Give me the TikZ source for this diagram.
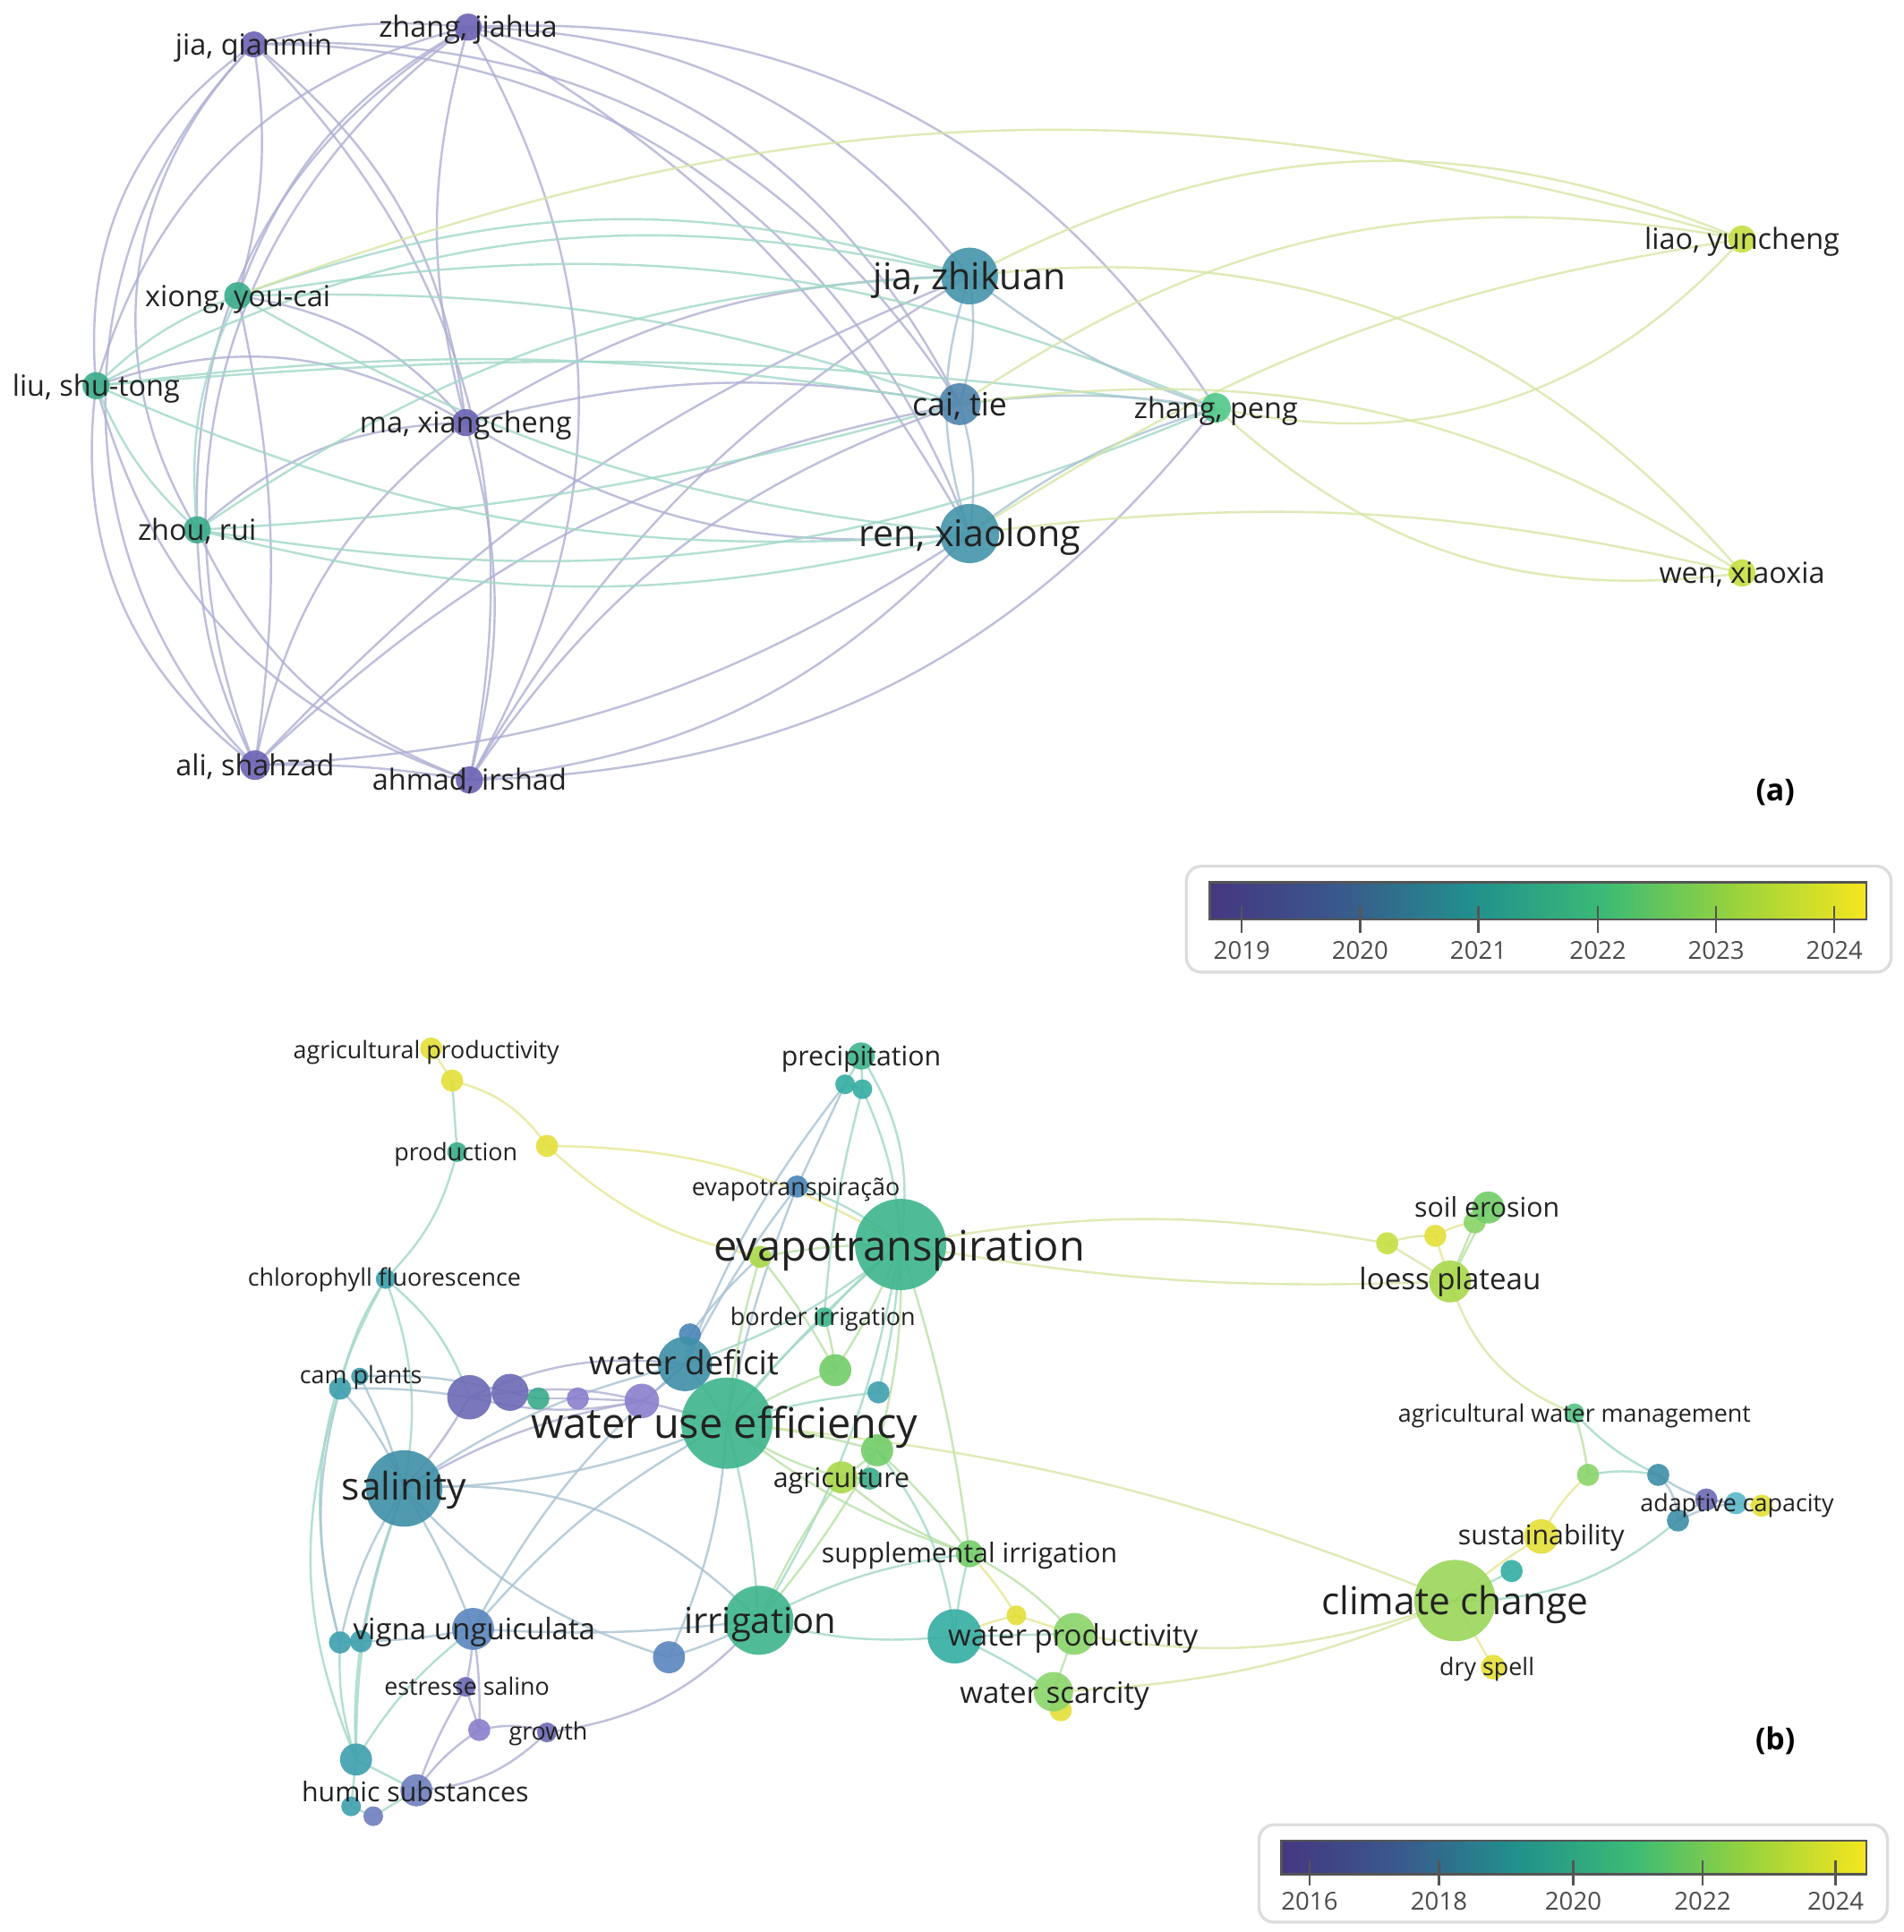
\documentclass[tikz,border=0pt]{standalone}
\usepackage{fontspec}
\setmainfont{Open Sans}
\usetikzlibrary{backgrounds}
\definecolor{txt}{HTML}{222222}
% node colours
\definecolor{npu}{HTML}{6B63B3}
\definecolor{nte}{HTML}{3AAB8A}
\definecolor{nbl}{HTML}{4494AA}
\definecolor{nbb}{HTML}{4F84AC}
\definecolor{ngr}{HTML}{4FC88A}
\definecolor{nye}{HTML}{C6DF43}
\definecolor{c1}{HTML}{6B6AB5}
\definecolor{c2}{HTML}{8A7FCC}
\definecolor{c3}{HTML}{5A86BD}
\definecolor{c4}{HTML}{4B84B8}
\definecolor{c5}{HTML}{3E8FA7}
\definecolor{c6}{HTML}{3E9FAE}
\definecolor{c7}{HTML}{3AAB8A}
\definecolor{c8}{HTML}{3DB58C}
\definecolor{c9}{HTML}{35ADA2}
\definecolor{c10}{HTML}{55C484}
\definecolor{c11}{HTML}{72CD68}
\definecolor{c12}{HTML}{8AD46A}
\definecolor{c13}{HTML}{9AD65A}
\definecolor{c14}{HTML}{A9D84A}
\definecolor{c15}{HTML}{C6DF43}
\definecolor{c16}{HTML}{E4DF38}
\definecolor{c18}{HTML}{6F7FBF}
\definecolor{c19}{HTML}{5AB8C8}
% edge colours
\definecolor{pa}{HTML}{AEAFD3}
\definecolor{ta}{HTML}{A0D8C8}
\definecolor{ba}{HTML}{A8C2D3}
\definecolor{ya}{HTML}{D6E6A4}
\definecolor{ga}{HTML}{B8E0A6}
\definecolor{ye}{HTML}{E6E694}
% colour bar
\definecolor{v0}{HTML}{453781}
\definecolor{v1}{HTML}{39598C}
\definecolor{v2}{HTML}{21908D}
\definecolor{v3}{HTML}{3BBB75}
\definecolor{v4}{HTML}{99D33C}
\definecolor{v5}{HTML}{F6E61E}
\definecolor{boxc}{HTML}{DDDDDD}
\definecolor{tickc}{HTML}{555555}
\begin{document}
\begin{tikzpicture}[x=0.01cm, y=-0.01cm,
  dot/.style={circle, inner sep=0pt, draw=none, fill=#1, fill opacity=0.9},
  rad/.style={minimum size=#1*0.02cm},
  lab/.style={anchor=base, inner sep=0pt, text=txt, font=\fontsize{#1}{#1}\selectfont, yshift=-0.36*#1pt},
  ed/.style={draw=#1, line width=0.5pt, opacity=0.8},
  yr/.style={inner sep=0pt, text=tickc!90!black, font=\fontsize{5.7}{5.7}\selectfont},
  tk/.style={draw=tickc, line width=0.5pt},
  panel/.style={inner sep=0pt, text=black, font=\bfseries\fontsize{7}{7}\selectfont}]
\useasboundingbox (0,0) rectangle (1545,1568);

% ---------------- (a) nodes ----------------
\foreach \n/\x/\y/\r/\c in {
  jq/206/36/10.5/npu, zj/380/22/11/npu, xy/193/240/11/nte, ls/78/313/11/nte,
  mx/378/343/11/npu, zr/160/430/11/nte, as/207/621/12/npu, ai/381/633/11/npu,
  jz/787/224/23/nbl, ct/779/328/17/nbb, rx/787/433/24/nbl, zp/987/331/12/ngr,
  ly/1414/194/11/nye, wx/1414/465/11/nye}
  \node[dot=\c, rad=\r] (\n) at (\x,\y) {};

% ---------------- (b) nodes ----------------
\foreach \n/\x/\y/\r/\c in {
  ap/350/851/9/c16, y1/367/877/9/c16, pr/371/935/8/c7, y2/444/930/9/c16,
  pc/699/857/11/c8, pc1/686/880/8/c9, pc2/700/884/8/c9, ep/647/963/9/c4,
  g1/617/1020/9/c14, ev/731/1010/37/c8,
  se2/1165/1003/9/c16, se3/1126/1009/9/c15, se1/1197/992/9/c12, se/1208/980/13/c11, lp/1177/1040/17/c14,
  cf/313/1038/8/c6, bi/669/1069/8/c8, b1/560/1083/9/c4, wd/556/1107/22/c5,
  g2/678/1112/13/c11, t1/713/1130/9/c6, cp/276/1127/9/c6, cq/292/1117/7/c6,
  pu1/381/1134/18/c1, pu2/414/1130/15/c1, t2/437/1135/9/c7, pu3/469/1135/9/c2, pu4/521/1137/14/c2,
  wue/590/1155/37/c8, g3/712/1177/13/c11, t3/706/1200/9/c7, ag/683/1199/13/c14,
  sa/328/1208/31/c5, si/787/1261/11/c11, y3/825/1311/8/c16, t4/775/1328/22/c9,
  wp/872/1326/17/c12, y4/861/1388/9/c16, ws/855/1373/16/c12,
  ir/616/1315/28/c8, b2/543/1345/13/c3, vu/384/1322/17/c3,
  t5/276/1333/9/c6, t6/293/1332/9/c6, es/378/1369/8/c1, gr1/389/1404/9/c2, gr/444/1406/8/c1,
  hs2/285/1466/8/c6, hs3/303/1474/8/c18, hs1/289/1428/13/c6, hs/338/1453/13/c18,
  aw/1278/1147/8/c10, a1/1289/1197/9/c12, a2/1346/1197/9/c5, a3/1385/1217/9/c1,
  a4/1409/1220/9/c19, a5/1430/1222/9/c16, a6/1362/1234/9/c5,
  su/1251/1247/14/c16, t7/1227/1275/9/c9, ds/1212/1353/10/c16, cc/1181/1299/33/c13}
  \node[dot=\c, rad=\r] (\n) at (\x,\y) {};

% ---------------- edges ----------------
\begin{pgfonlayer}{background}
\fill[white] (0,0) rectangle (1545,1568);
\foreach \a/\b/\d/\c in {
  jq/zj/10/pa, jq/ls/-30/pa, jq/zr/-38/pa, jq/as/-45/pa, jq/xy/12/pa, jq/mx/22/pa, jq/ai/28/pa, jq/ct/30/pa, jq/rx/35/pa,
  zj/ls/-30/pa, zj/xy/-20/pa, zj/zr/-30/pa, zj/as/-38/pa, zj/mx/-15/pa, zj/ai/30/pa, zj/jz/25/pa, zj/ct/25/pa, zj/rx/15/pa, zj/zp/30/pa,
  mx/as/-20/pa, mx/ai/15/pa, mx/jz/15/pa, mx/ct/12/pa, mx/rx/-18/pa, zr/mx/20/pa, xy/mx/20/pa, ls/mx/25/pa,
  as/ai/5/pa, as/jz/12/pa, as/ct/16/pa, as/rx/-15/pa, ai/jz/14/pa, ai/ct/18/pa, ai/rx/-20/pa, ai/zp/-25/pa,
  ls/as/-30/pa, ls/ai/-28/pa, xy/as/10/pa, zr/as/-12/pa, zr/ai/-22/pa,
  xy/ls/-12/ta, xy/zr/-15/ta, ls/zr/-12/ta, xy/jz/18/ta, xy/ct/10/ta, xy/rx/-12/ta, ls/jz/20/ta, ls/ct/8/ta, ls/rx/-14/ta,
  zr/jz/16/ta, zr/ct/-6/ta, zr/rx/-14/ta, xy/zp/16/ta, ls/zp/6/ta, zr/zp/-16/ta,
  jz/ct/12/ba, ct/rx/12/ba, jz/rx/-18/ba, jz/zp/-10/ba, ct/zp/8/ba, rx/zp/10/ba,
  jz/ly/25/ya, ct/ly/22/ya, rx/ly/12/ya, zp/ly/-30/ya, zp/wx/-25/ya, jz/wx/28/ya, ct/wx/20/ya, rx/wx/10/ya, xy/ly/18/ya}
  \draw[ed=\c] (\a.center) to[bend left=\d] (\b.center);
\foreach \a/\b/\d/\c in {
  ap/y1/0/ye, y1/y2/20/ye, y1/pr/0/ta, pr/cf/15/ta, y2/g1/-15/ye, y2/ev/15/ye,
  cf/cp/-10/ta, cf/sa/15/ta, cf/t5/-22/ta, cf/pu1/15/ta, cp/sa/10/ba, cp/pu1/5/ba, cp/t5/-15/ba, cp/hs1/-20/ta, cq/pu2/8/ba, cq/sa/5/ba,
  pc/pc1/0/ta, pc/pc2/0/ta, pc1/pc2/0/ta, pc/ev/20/ta, pc1/ep/0/ba, pc1/wd/-8/ba, pc2/ev/10/ta, pc2/bi/-5/ta,
  ep/wd/-5/ba, ep/ev/10/ta, ep/wue/-5/ba, g1/ev/5/ga, g1/wue/-5/ga, g1/g2/5/ga,
  ev/se3/10/ya, ev/lp/-6/ya, ev/wd/10/ta, ev/wue/-5/ta, ev/g2/5/ga, ev/t1/5/ta, ev/bi/-5/ta, ev/ir/10/ta, ev/g3/8/ga, ev/si/5/ga,
  bi/wue/-5/ta, bi/g2/5/ga, wd/b1/0/ba, wd/wue/5/ta, wd/pu4/5/pa, wd/pu1/-15/pa, wd/sa/-10/ba, b1/g1/5/ba,
  pu1/pu2/0/pa, pu2/t2/0/pa, t2/pu3/0/pa, pu3/pu4/0/pa, pu1/pu4/-12/pa, pu2/pu4/10/pa, pu1/sa/5/pa, pu4/wue/0/pa,
  wue/g3/5/ga, wue/ag/-10/ga, wue/t1/5/ta, wue/g2/5/ga, wue/ir/5/ta, wue/sa/10/ba, wue/si/-10/ga, wue/cc/8/ya, wue/vu/-10/ba,
  g3/ag/5/ga, g3/si/5/ga, ag/si/-10/ga, t3/ag/0/ga,
  si/y3/5/ye, si/wp/10/ga, si/t4/-5/ta, si/ir/-10/ta,
  t4/wp/0/ta, t4/ws/5/ta, t4/ir/10/ta, t4/y3/5/ye, t4/g3/-15/ta, wp/ws/0/ga, ws/y4/0/ye, wp/y3/0/ye,
  cc/wp/15/ya, cc/ws/10/ya, cc/su/5/ye, cc/t7/0/ta, cc/ds/0/ye, cc/a6/-20/ta,
  lp/aw/-25/ya, lp/se/0/ga, lp/se1/0/ga, lp/se2/0/ye, lp/se3/0/ya, se/se1/0/ga, se2/se1/10/ye, se3/se2/10/ya,
  aw/a1/5/ga, aw/a2/-10/ta, a1/su/-10/ye, a1/a2/10/ta, a2/a6/20/ba, a2/a4/-15/ba, a6/a4/10/ba, a3/a4/0/pa, a4/a5/0/ye, a6/a3/5/ba,
  ir/b2/5/ba, ir/sa/-25/ba, ir/vu/5/ba, ir/gr/20/pa, ir/ag/5/ga, ir/g3/-5/ga, b2/sa/15/ba, b2/wue/-10/ba,
  sa/vu/5/ba, sa/t5/-10/ba, sa/t6/-5/ba, sa/hs1/-10/ta, sa/pu4/10/pa,
  vu/es/5/pa, vu/gr1/5/pa, vu/t6/5/ba, vu/hs1/-10/ta, vu/wd/10/ba,
  es/gr1/0/pa, es/hs/-5/pa, gr1/gr/15/pa, gr1/hs/-10/pa, gr/hs/20/pa,
  hs/hs1/0/ta, hs1/hs2/0/ta, hs2/hs3/0/ta, hs/hs3/0/ta, hs1/t5/10/ta, t5/t6/0/ta, hs1/t6/5/ta}
  \draw[ed=\c] (\a.center) to[bend left=\d] (\b.center);
\end{pgfonlayer}

% ---------------- labels (a) ----------------
\foreach \n/\s/\t in {
  jq/6.7/{jia, qianmin}, zj/6.7/{zhang, jiahua}, xy/6.7/{xiong, you-cai}, ls/6.7/{liu, shu-tong},
  mx/6.7/{ma, xiangcheng}, zr/6.7/{zhou, rui}, as/6.7/{ali, shahzad}, ai/6.7/{ahmad, irshad},
  jz/8.5/{jia, zhikuan}, ct/7.4/{cai, tie}, rx/8.5/{ren, xiaolong}, zp/6.7/{zhang, peng},
  ly/6.7/{liao, yuncheng}, wx/6.7/{wen, xiaoxia}}
  \node[lab=\s] (\n-t) at (\n) {\t};

% ---------------- labels (b) ----------------
\foreach \n/\x/\y/\s/\t in {
  ap/346/852/5.55/{agricultural productivity}, pr/370/935/5.55/{production}, pc/699/857/6.26/{precipitation},
  ep/646/963/5.55/{evapotranspiração}, ev/730/1011/9.7/{evapotranspiration}, se/1207/980/6.26/{soil erosion},
  lp/1177/1038/6.83/{loess plateau}, cf/312/1037/5.55/{chlorophyll fluorescence}, bi/668/1069/5.55/{border irrigation},
  wd/555/1106/7.6/{water deficit}, cq/293/1116/5.55/{cam plants}, wue/588/1155/9.7/{water use efficiency},
  ag/683/1199/6.26/{agriculture}, sa/328/1206/8.8/{salinity}, si/787/1260/6.26/{supplemental irrigation},
  wp/871/1327/6.83/{water productivity}, ws/856/1374/6.83/{water scarcity}, ir/617/1315/8.25/{irrigation},
  vu/385/1322/6.83/{vigna unguiculata}, es/379/1369/5.55/{estresse salino}, gr/445/1405/5.55/{growth},
  hs/337/1454/6.26/{humic substances}, aw/1278/1147/5.55/{agricultural water management},
  a4/1410/1220/5.55/{adaptive capacity}, su/1251/1246/6.26/{sustainability}, cc/1181/1299/8.8/{climate change},
  ds/1207/1353/5.55/{dry spell}}
  \node[lab=\s] (\n-t) at (\x,\y) {\t};

\node[panel] (pa-lab) at (1441,643) {(a)};
\node[panel] (pb-lab) at (1441,1413) {(b)};

% ---------------- colour bar 1 ----------------
\draw[draw=boxc, line width=0.7pt, fill=white, rounded corners=0.12cm] (963,703) rectangle (1535,789);
\foreach \i/\ca/\cb in {0/v0/v1, 1/v1/v2, 2/v2/v3, 3/v3/v4, 4/v4/v5}
  \shade[left color=\ca, right color=\cb] ({982+\i*106.6-0.4},716) rectangle ({982+(\i+1)*106.6+0.4},746);
\draw[draw=tickc, line width=0.5pt] (982,716) rectangle (1515,746);
\foreach \x/\t in {1008/2019, 1104/2020, 1200/2021, 1297/2022, 1393/2023, 1489/2024} {
  \draw[tk] (\x,735) -- (\x,757);
  \node[yr] at (\x,771) {\t};
}

% ---------------- colour bar 2 ----------------
\draw[draw=boxc, line width=0.7pt, fill=white, rounded corners=0.12cm] (1022,1481) rectangle (1532,1560);
\foreach \i/\ca/\cb in {0/v0/v1, 1/v1/v2, 2/v2/v3, 3/v3/v4, 4/v4/v5}
  \shade[left color=\ca, right color=\cb] ({1040+\i*95-0.4},1494) rectangle ({1040+(\i+1)*95+0.4},1521);
\draw[draw=tickc, line width=0.5pt] (1040,1494) rectangle (1515,1521);
\foreach \x/\t in {1063/2016, 1168/2018, 1277/2020, 1382/2022, 1490/2024} {
  \draw[tk] (\x,1510) -- (\x,1530);
  \node[yr] at (\x,1543) {\t};
}
\end{tikzpicture}
\end{document}
